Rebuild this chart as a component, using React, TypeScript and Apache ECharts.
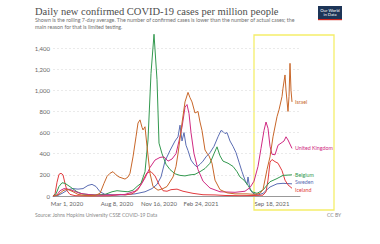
import React, { useEffect, useRef } from "react";
import * as echarts from "echarts";

// Timeline position index -> date label shown under the axis
const tickPositions = [14, 64, 106, 148, 219];
const tickLabels = ["Mar 1, 2020", "Aug 8, 2020", "Nov 16, 2020", "Feb 24, 2021", "Sep 18, 2021"];

const yTicks = [0, 200, 400, 600, 800, 1000, 1200, 1400];

// Rolling 7-day average of new cases per million: [timeline position, value]
const israel: [number, number][] = [
  [0, 0], [5, 10], [10, 50], [14, 65], [19, 45], [25, 15], [32, 5], [42, 5], [47, 25], [51, 120],
  [54, 185], [57, 215], [60, 230], [63, 200], [66, 180], [69, 170], [72, 160], [75, 180], [77, 215],
  [80, 370], [83, 560], [85, 690], [87, 720], [89, 650], [90, 625], [92, 655], [94, 470], [97, 215],
  [100, 90], [105, 55], [110, 70], [114, 90], [120, 180], [123, 280], [125, 400], [129, 690],
  [132, 890], [135, 980], [137, 930], [139, 890], [142, 785], [145, 800], [147, 700], [149, 620],
  [152, 435], [154, 405], [156, 380], [159, 310], [162, 150], [167, 60], [174, 30], [182, 20],
  [194, 20], [202, 15], [207, 25], [210, 60], [214, 250], [217, 370], [220, 560], [224, 750],
  [226, 815], [229, 940], [230, 1020], [232, 1145], [233, 1000], [235, 800], [236, 940],
  [237, 1255], [238, 1000], [239, 890],
];

const unitedKingdom: [number, number][] = [
  [0, 0], [4, 10], [7, 50], [11, 70], [15, 65], [20, 50], [27, 25], [37, 12], [47, 8], [62, 10],
  [72, 15], [82, 45], [87, 90], [92, 170], [97, 270], [102, 340], [107, 365], [111, 370], [115, 330],
  [119, 350], [123, 400], [126, 520], [129, 650], [132, 840], [134, 865], [136, 780], [138, 600],
  [141, 400], [145, 250], [150, 140], [157, 75], [167, 40], [182, 35], [192, 45], [197, 80],
  [201, 140], [205, 280], [208, 450], [211, 620], [213, 700], [215, 640], [217, 470], [219, 395],
  [222, 390], [225, 480], [228, 500], [231, 520], [233, 560], [235, 530], [239, 450],
];

const belgium: [number, number][] = [
  [0, 0], [3, 20], [6, 90], [9, 125], [12, 120], [17, 88], [24, 40], [30, 18], [42, 10], [52, 15],
  [59, 40], [64, 50], [69, 45], [75, 40], [80, 55], [84, 90], [88, 120], [92, 230], [95, 530],
  [98, 1160], [101, 1530], [104, 1100], [106, 500], [109, 400], [113, 300], [117, 250], [122, 210],
  [127, 195], [132, 190], [137, 200], [142, 205], [147, 230], [152, 260], [157, 310], [161, 400],
  [164, 465], [167, 380], [170, 330], [175, 310], [180, 280], [184, 230], [187, 180], [191, 150],
  [195, 100], [199, 40], [204, 25], [210, 57], [217, 135], [224, 165], [230, 195], [239, 200],
];

const sweden: [number, number][] = [
  [0, 0], [5, 5], [10, 30], [15, 60], [20, 70], [25, 65], [30, 70], [35, 100], [39, 110], [43, 90],
  [47, 40], [52, 15], [62, 10], [72, 12], [82, 20], [92, 40], [99, 70], [104, 110], [108, 180],
  [112, 330], [117, 430], [122, 520], [125, 560], [127, 670], [129, 520], [131, 600], [133, 480],
  [135, 430], [138, 340], [141, 300], [144, 275], [147, 300], [150, 330], [153, 370], [157, 410],
  [161, 470], [165, 560], [168, 620], [170, 610], [172, 590], [174, 600], [177, 520], [180, 470],
  [183, 410], [186, 320], [189, 230], [192, 150], [194, 110], [195, 180], [197, 60], [200, 25],
  [205, 10], [210, 25], [217, 85], [224, 115], [230, 120], [239, 115],
];

const iceland: [number, number][] = [
  [0, 0], [2, 20], [4, 130], [6, 205], [8, 215], [10, 200], [12, 120], [14, 50], [17, 15], [22, 3],
  [37, 0], [57, 2], [67, 15], [72, 10], [79, 20], [85, 60], [90, 150], [94, 220], [98, 230],
  [102, 190], [106, 110], [110, 50], [114, 45], [118, 60], [124, 65], [130, 45], [140, 25],
  [150, 12], [162, 10], [172, 5], [187, 3], [202, 5], [210, 8], [213, 40], [215, 150], [217, 320],
  [219, 345], [222, 325], [225, 310], [229, 240], [232, 150], [235, 105], [239, 73],
];

const seriesList = [
  { name: "Sweden", data: sweden, color: "#5b6db3", offset: [0, -1.5] },
  { name: "Iceland", data: iceland, color: "#e23b3e", offset: [0, 1.5] },
  { name: "Belgium", data: belgium, color: "#33994f", offset: [0, 0] },
  { name: "United Kingdom", data: unitedKingdom, color: "#d02a82", offset: [0, 0] },
  { name: "Israel", data: israel, color: "#c8672a", offset: [0, 0] },
];

const SANS = "Lato, 'Noto Sans', Arial, sans-serif";

export default function App() {
  const ref = useRef<HTMLDivElement>(null);

  useEffect(() => {
    document.body.style.margin = "0";
    if (!ref.current) return;
    const chart = echarts.init(ref.current, null, { renderer: "svg" });
    chart.setOption({
      animation: false,
      backgroundColor: "#ffffff",
      grid: { left: 53, top: 48, width: 247, height: 148, containLabel: false },
      xAxis: {
        type: "value",
        min: 0,
        max: 247,
        splitLine: { show: false },
        axisLine: { show: true, lineStyle: { color: "#999", width: 1 } },
        axisTick: { show: false },
        axisLabel: {
          customValues: tickPositions,
          formatter: (v: number) => {
            const i = tickPositions.indexOf(v);
            return i >= 0 ? tickLabels[i] : "";
          },
          color: "#666",
          fontSize: 6,
          fontFamily: SANS,
          margin: 4,
          showMinLabel: true,
          showMaxLabel: true,
        },
      },
      yAxis: {
        type: "value",
        min: 0,
        max: 1400,
        interval: 200,
        axisLine: { show: false },
        axisTick: { show: false },
        splitLine: { show: true, lineStyle: { color: "#dcdcdc", type: [2, 2], width: 0.6 } },
        axisLabel: {
          color: "#666",
          fontSize: 6,
          fontFamily: SANS,
          margin: 3,
          customValues: yTicks,
          formatter: (v: number) => v.toLocaleString("en-US"),
        },
      },
      series: seriesList.map((s) => ({
        type: "line",
        name: s.name,
        data: s.data,
        clip: false,
        showSymbol: false,
        symbol: "none",
        lineStyle: { color: s.color, width: 1 },
        itemStyle: { color: s.color },
        emphasis: { disabled: true },
        endLabel: {
          show: true,
          formatter: "{a}",
          color: s.color,
          fontSize: 5.3,
          fontFamily: SANS,
          distance: 3,
          offset: s.offset,
        },
      })),
      graphic: [
        {
          type: "text",
          left: 35,
          top: 6,
          style: {
            text: "Daily new confirmed COVID-19 cases per million people",
            fontFamily: "'Liberation Serif', 'DejaVu Serif', serif",
            fontSize: 10.5,
            fill: "#4d4d4d",
          },
        },
        {
          type: "text",
          left: 35,
          top: 16,
          style: {
            text:
              "Shown is the rolling 7-day average. The number of confirmed cases is lower than the number of actual cases; the\nmain reason for that is limited testing.",
            fontFamily: SANS,
            fontSize: 5.3,
            lineHeight: 7,
            fill: "#707070",
          },
        },
        {
          type: "rect",
          shape: { x: 318, y: 6, width: 24, height: 14 },
          style: { fill: "#1d3557" },
        },
        {
          type: "rect",
          shape: { x: 318, y: 19, width: 24, height: 1.2 },
          style: { fill: "#ce261e" },
        },
        {
          type: "text",
          x: 330,
          y: 12.5,
          style: {
            text: "Our World\nin Data",
            fontFamily: SANS,
            fontSize: 4.2,
            lineHeight: 4.6,
            fill: "#ffffff",
            align: "center",
            verticalAlign: "middle",
          },
        },
        {
          type: "rect",
          shape: { x: 254, y: 35, width: 80, height: 175 },
          style: { fill: "none", stroke: "#f5ee6a", lineWidth: 1.3 },
        },
        {
          type: "text",
          left: 35,
          top: 212,
          style: {
            text: "Source: Johns Hopkins University CSSE COVID-19 Data",
            fontFamily: SANS,
            fontSize: 5,
            fill: "#888",
          },
        },
        {
          type: "text",
          left: 327,
          top: 212,
          style: { text: "CC BY", fontFamily: SANS, fontSize: 5, fill: "#888" },
        },
      ],
    });
    return () => chart.dispose();
  }, []);

  return <div ref={ref} style={{ width: 380, height: 244 }} />;
}
